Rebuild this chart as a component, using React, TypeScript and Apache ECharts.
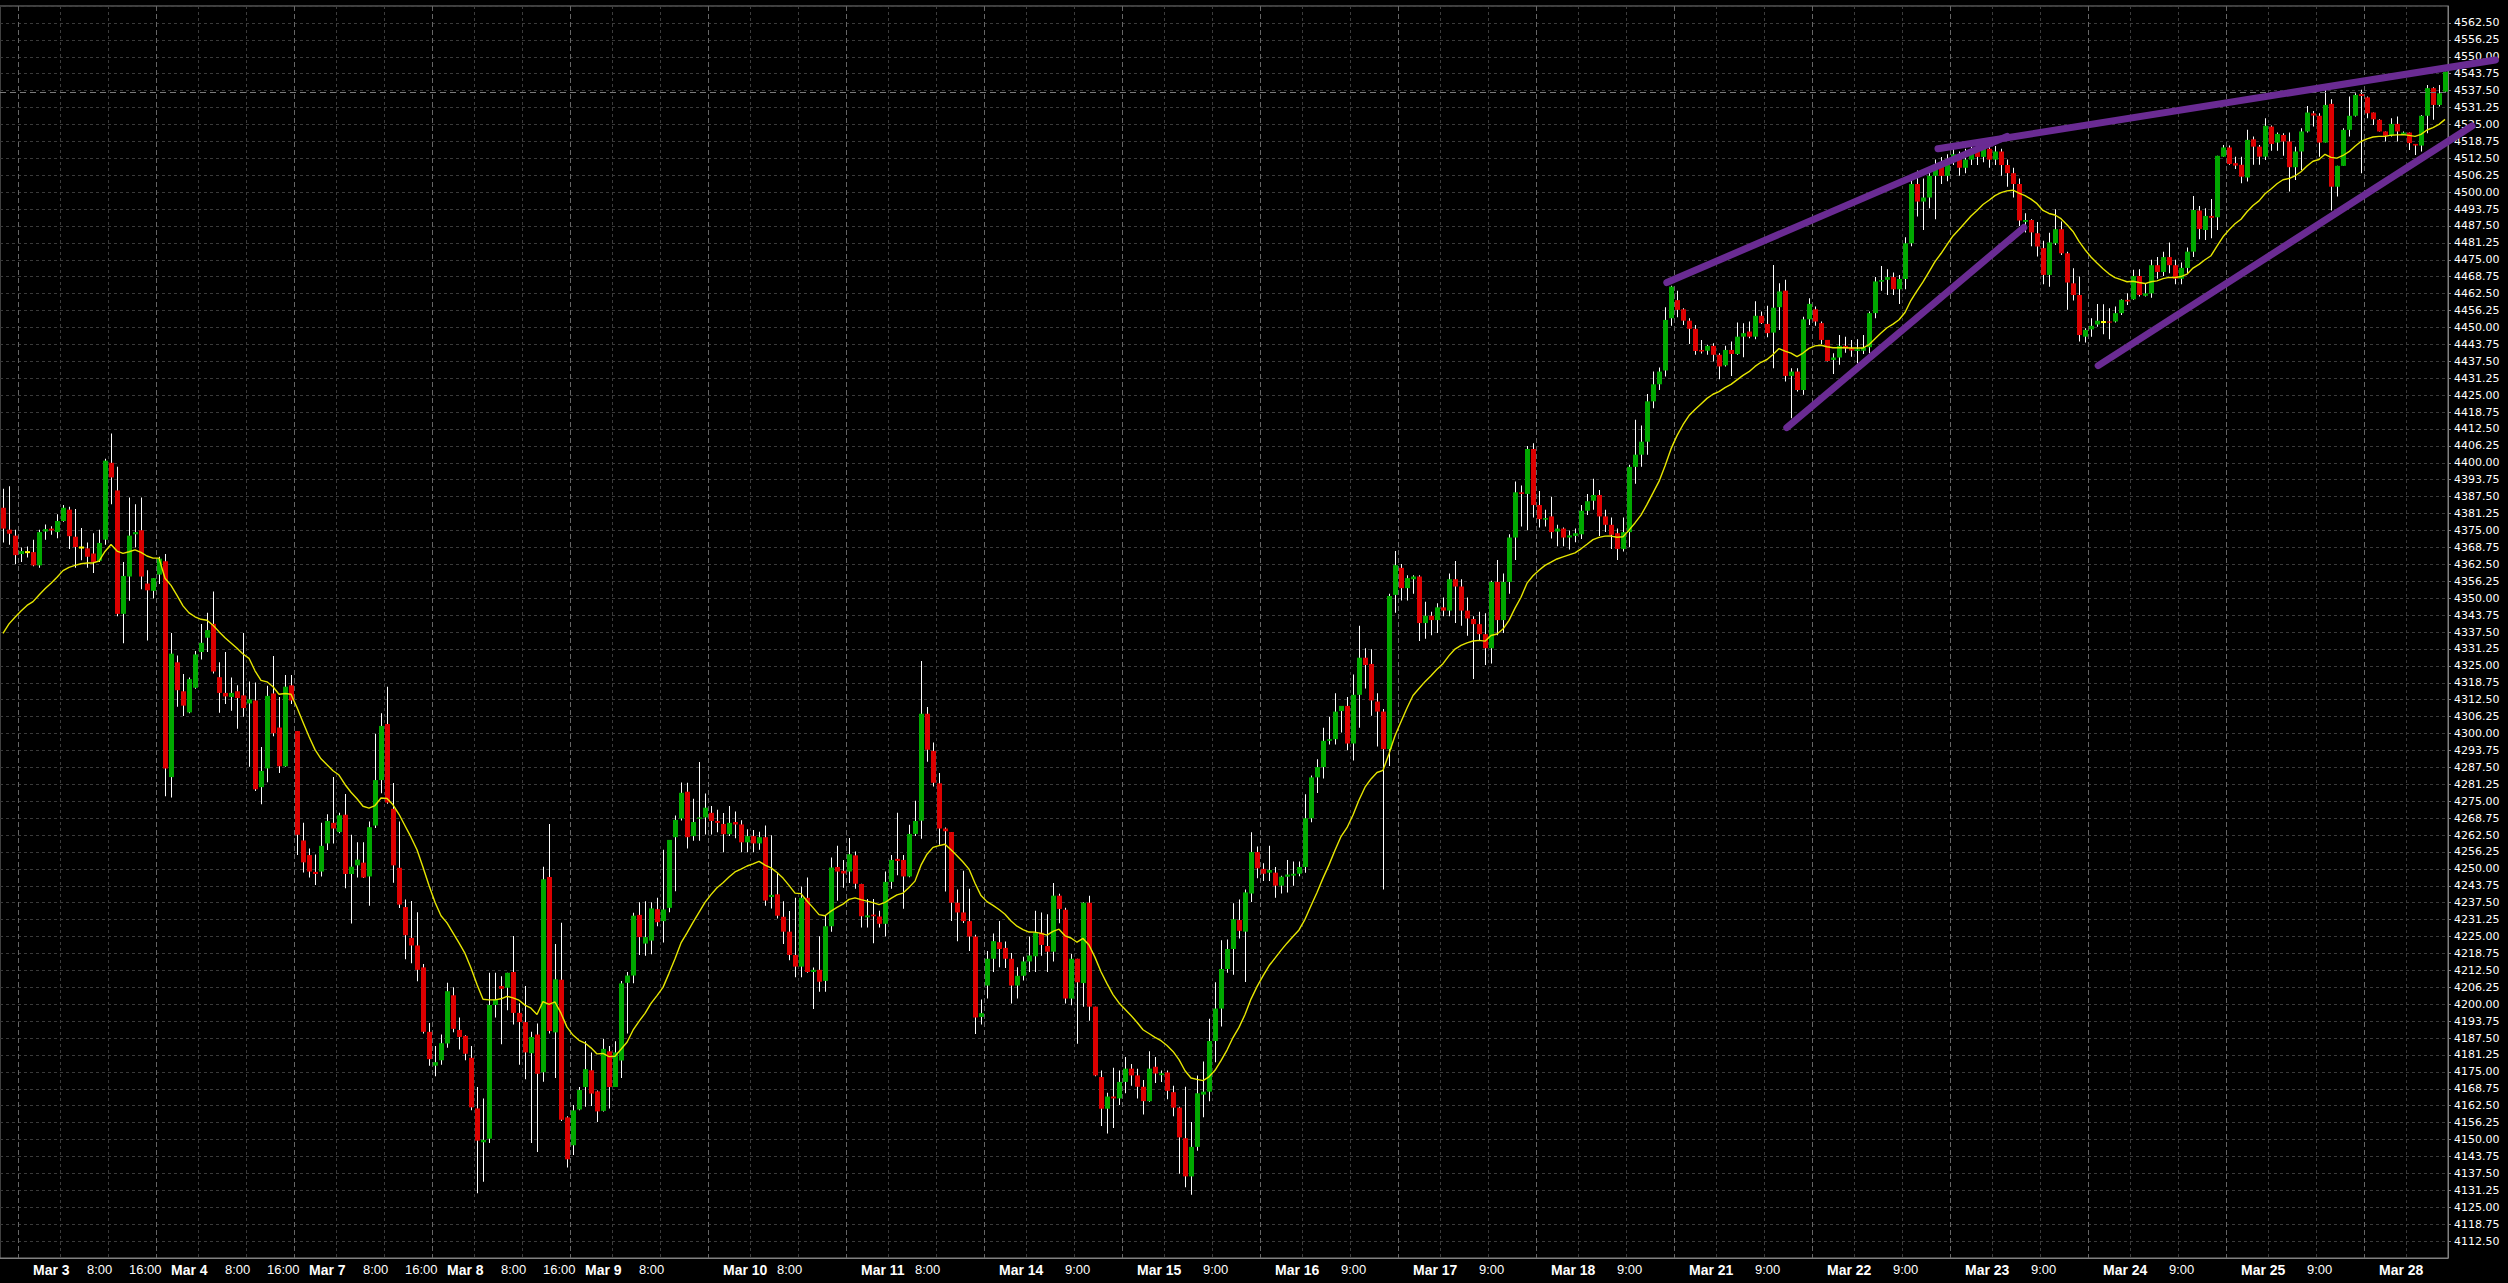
import React, { useEffect, useRef } from "react";
import * as echarts from "echarts";

// ---- Hourly OHLC bars (bar 0 .. 407) ----
const opens = [
  4383.4, 4375.3, 4373.1, 4366.3, 4367.0, 4367.0, 4362.1, 4374.6, 4375.7, 4374.4,
  4378.5, 4382.7, 4372.7, 4368.7, 4368.4, 4366.5, 4363.8, 4371.6, 4400.0, 4389.8,
  4344.2, 4358.0, 4373.6, 4375.1, 4355.4, 4352.7, 4358.7, 4363.6, 4283.9, 4326.3,
  4315.6, 4307.8, 4316.9, 4330.1, 4335.4, 4340.5, 4320.8, 4315.0, 4313.5, 4315.6,
  4314.1, 4311.1, 4312.2, 4280.2, 4287.1, 4314.8, 4302.2, 4287.9, 4317.8, 4300.9,
  4260.5, 4255.1, 4248.9, 4249.0, 4259.4, 4267.0, 4263.6, 4270.0, 4248.1, 4251.3,
  4252.3, 4247.2, 4266.0, 4282.8, 4303.5, 4272.2, 4250.4, 4235.9, 4224.5, 4221.7,
  4213.6, 4189.8, 4177.3, 4179.3, 4185.5, 4203.3, 4190.5, 4188.3, 4180.2, 4161.5,
  4149.0, 4150.3, 4199.7, 4206.7, 4206.1, 4211.9, 4196.8, 4193.4, 4181.9, 4188.8,
  4174.9, 4247.0, 4189.6, 4209.0, 4158.2, 4147.9, 4161.1, 4169.4, 4175.6, 4167.8,
  4160.6, 4182.6, 4169.4, 4179.2, 4207.9, 4210.6, 4233.0, 4222.4, 4223.5, 4235.1,
  4230.7, 4235.6, 4261.7, 4268.6, 4278.5, 4262.1, 4268.5, 4269.0, 4270.7, 4267.7,
  4266.6, 4262.8, 4267.3, 4266.4, 4259.8, 4262.1, 4259.4, 4261.7, 4239.6, 4240.6,
  4232.3, 4226.8, 4218.2, 4213.9, 4239.3, 4211.9, 4212.7, 4208.6, 4228.8, 4250.7,
  4249.3, 4249.0, 4255.0, 4244.4, 4232.1, 4233.1, 4232.4, 4229.7, 4245.2, 4253.7,
  4253.3, 4247.2, 4262.9, 4267.8, 4307.3, 4293.6, 4281.6, 4264.9, 4263.6, 4237.5,
  4233.9, 4230.7, 4225.0, 4195.3, 4206.9, 4216.8, 4222.9, 4220.8, 4216.8, 4206.9,
  4210.5, 4215.8, 4217.7, 4226.4, 4221.5, 4219.4, 4240.1, 4234.9, 4202.1, 4216.8,
  4207.8, 4237.5, 4199.1, 4173.1, 4161.4, 4165.9, 4165.2, 4171.3, 4176.2, 4173.7,
  4169.5, 4164.2, 4176.9, 4173.8, 4174.8, 4167.5, 4161.8, 4150.5, 4136.4, 4147.3,
  4166.6, 4167.7, 4186.4, 4198.4, 4213.0, 4220.4, 4231.1, 4226.8, 4240.9, 4256.2,
  4250.0, 4248.6, 4248.6, 4243.8, 4247.1, 4247.5, 4248.2, 4250.7, 4268.7, 4283.8,
  4287.6, 4297.3, 4297.9, 4308.3, 4310.2, 4296.3, 4314.3, 4328.0, 4325.7, 4311.8,
  4308.1, 4294.2, 4351.2, 4361.2, 4353.7, 4357.0, 4358.0, 4340.8, 4343.5, 4341.9,
  4346.6, 4345.4, 4357.0, 4354.3, 4345.4, 4342.3, 4340.4, 4336.7, 4331.5, 4356.0,
  4341.9, 4356.0, 4372.4, 4389.1, 4388.5, 4405.1, 4384.4, 4379.0, 4380.2, 4374.6,
  4375.7, 4372.4, 4373.0, 4373.6, 4382.3, 4386.0, 4388.1, 4380.2, 4377.1, 4374.0,
  4368.2, 4374.4, 4398.5, 4403.0, 4407.8, 4422.7, 4429.0, 4434.1, 4453.4, 4460.1,
  4456.7, 4452.5, 4449.5, 4441.7, 4441.4, 4443.2, 4439.9, 4436.0, 4441.7, 4440.2,
  4446.6, 4448.5, 4446.6, 4454.3, 4451.3, 4448.1, 4457.5, 4463.6, 4432.1, 4433.7,
  4426.9, 4453.0, 4456.7, 4451.6, 4445.4, 4438.0, 4438.9, 4443.2, 4442.3, 4441.3,
  4441.4, 4442.7, 4455.3, 4466.9, 4467.6, 4468.6, 4464.1, 4467.9, 4481.1, 4503.0,
  4496.5, 4498.0, 4506.0, 4510.0, 4506.0, 4512.0, 4514.0, 4509.0, 4512.0, 4515.0,
  4513.0, 4516.0, 4512.0, 4515.0, 4510.0, 4507.0, 4503.0, 4489.0, 4489.7, 4484.8,
  4479.3, 4469.4, 4481.1, 4486.3, 4477.4, 4466.3, 4462.0, 4446.6, 4449.3, 4451.1,
  4452.0, 4452.2, 4452.2, 4455.3, 4460.2, 4460.4, 4469.0, 4461.7, 4462.6, 4473.0,
  4470.5, 4476.0, 4473.0, 4468.0, 4472.0, 4478.0, 4493.2, 4486.0, 4491.2, 4490.7,
  4513.1, 4516.5, 4510.7, 4510.1, 4505.4, 4519.5, 4516.8, 4513.1, 4524.2, 4518.3,
  4521.1, 4518.7, 4509.2, 4515.0, 4522.4, 4529.1, 4528.2, 4518.3, 4532.6, 4502.0,
  4509.7, 4523.0, 4528.2, 4536.2, 4535.0, 4529.4, 4526.7, 4522.4, 4521.1, 4525.2,
  4521.1, 4522.0, 4517.8, 4517.2, 4528.2, 4538.4, 4532.2, 4537.1,
];
const highs = [
  4390.4, 4391.3, 4375.3, 4368.7, 4369.1, 4371.6, 4375.3, 4377.2, 4376.6, 4381.0,
  4384.4, 4383.8, 4382.9, 4375.9, 4370.6, 4374.0, 4375.3, 4401.5, 4410.8, 4398.5,
  4363.4, 4387.2, 4384.7, 4387.2, 4360.3, 4357.4, 4365.3, 4366.3, 4337.1, 4328.8,
  4322.0, 4320.7, 4330.5, 4340.5, 4344.6, 4352.5, 4326.3, 4330.1, 4320.7, 4317.8,
  4337.1, 4319.2, 4318.8, 4295.0, 4317.6, 4328.6, 4313.5, 4321.6, 4321.6, 4300.9,
  4267.0, 4257.5, 4255.3, 4267.0, 4270.2, 4283.9, 4270.7, 4277.7, 4262.6, 4259.8,
  4259.8, 4267.5, 4299.9, 4307.5, 4317.3, 4281.7, 4267.5, 4238.7, 4238.1, 4234.0,
  4214.9, 4193.1, 4184.6, 4188.8, 4207.9, 4206.3, 4195.1, 4188.5, 4184.6, 4169.4,
  4165.2, 4211.6, 4211.6, 4210.3, 4211.6, 4225.2, 4200.4, 4206.7, 4189.8, 4192.9,
  4250.8, 4266.6, 4222.2, 4230.1, 4158.6, 4162.8, 4169.4, 4186.3, 4182.2, 4168.1,
  4187.2, 4184.6, 4186.3, 4208.6, 4211.9, 4233.8, 4237.7, 4238.0, 4237.7, 4239.3,
  4257.1, 4260.7, 4269.7, 4281.9, 4281.8, 4275.9, 4289.5, 4277.8, 4273.2, 4271.8,
  4270.6, 4273.2, 4271.2, 4268.0, 4264.6, 4264.4, 4263.7, 4266.0, 4262.4, 4248.6,
  4238.0, 4234.4, 4239.3, 4243.5, 4246.8, 4213.6, 4225.1, 4232.7, 4254.2, 4258.5,
  4253.3, 4261.4, 4256.4, 4244.5, 4238.9, 4238.9, 4234.5, 4249.0, 4255.1, 4270.7,
  4255.1, 4266.3, 4275.2, 4326.8, 4309.8, 4296.7, 4285.4, 4265.3, 4263.6, 4242.4,
  4249.3, 4242.7, 4225.7, 4201.7, 4219.7, 4226.1, 4230.7, 4223.2, 4218.9, 4213.7,
  4217.5, 4225.0, 4234.5, 4233.9, 4233.2, 4244.8, 4240.8, 4235.6, 4218.6, 4216.8,
  4237.7, 4240.1, 4199.1, 4175.5, 4167.3, 4176.5, 4175.5, 4180.5, 4177.9, 4176.2,
  4172.0, 4182.6, 4180.5, 4175.5, 4175.5, 4169.9, 4162.1, 4169.5, 4156.5, 4173.7,
  4178.8, 4194.6, 4208.1, 4223.6, 4223.9, 4237.3, 4238.7, 4242.4, 4263.5, 4258.3,
  4252.1, 4258.5, 4250.7, 4247.5, 4253.3, 4252.7, 4252.7, 4277.6, 4284.5, 4290.5,
  4302.1, 4306.2, 4314.9, 4310.2, 4313.5, 4321.8, 4339.8, 4331.5, 4331.1, 4314.9,
  4309.1, 4351.6, 4367.4, 4362.6, 4358.5, 4358.5, 4358.5, 4348.7, 4345.0, 4348.1,
  4350.2, 4359.1, 4363.7, 4357.0, 4350.2, 4343.3, 4345.0, 4344.4, 4356.4, 4364.1,
  4359.1, 4373.6, 4393.1, 4391.6, 4406.2, 4407.2, 4389.6, 4382.7, 4387.5, 4377.1,
  4376.1, 4375.0, 4375.7, 4384.4, 4388.5, 4394.1, 4390.0, 4382.7, 4379.8, 4375.7,
  4379.8, 4399.3, 4415.9, 4413.8, 4425.4, 4433.7, 4435.2, 4457.5, 4465.4, 4463.6,
  4457.1, 4453.4, 4450.9, 4445.4, 4443.6, 4444.2, 4440.5, 4443.2, 4444.8, 4451.8,
  4451.6, 4452.2, 4459.7, 4455.9, 4458.0, 4473.1, 4466.3, 4467.6, 4434.9, 4434.9,
  4454.0, 4460.8, 4457.7, 4452.2, 4445.4, 4440.5, 4447.2, 4446.6, 4445.4, 4445.6,
  4447.2, 4455.9, 4468.6, 4472.7, 4471.5, 4470.3, 4469.4, 4483.3, 4505.0, 4508.0,
  4505.0, 4508.0, 4512.0, 4513.0, 4514.0, 4517.0, 4515.0, 4516.0, 4518.0, 4517.0,
  4518.0, 4518.0, 4517.0, 4516.0, 4512.0, 4509.0, 4505.0, 4492.2, 4490.0, 4489.0,
  4482.0, 4485.0, 4493.7, 4489.1, 4478.0, 4471.9, 4468.8, 4449.7, 4453.4, 4458.7,
  4458.6, 4457.1, 4457.7, 4460.4, 4462.6, 4471.3, 4471.5, 4466.3, 4475.0, 4476.0,
  4478.0, 4481.4, 4475.0, 4474.0, 4479.5, 4498.6, 4494.9, 4494.0, 4497.5, 4513.4,
  4517.4, 4517.2, 4513.1, 4513.1, 4523.0, 4520.5, 4517.4, 4527.3, 4524.6, 4522.0,
  4521.7, 4522.0, 4516.8, 4523.6, 4531.8, 4530.0, 4529.1, 4537.8, 4534.3, 4509.7,
  4523.6, 4535.3, 4536.5, 4537.8, 4535.3, 4529.4, 4526.9, 4522.4, 4527.3, 4527.9,
  4522.4, 4522.0, 4517.8, 4528.5, 4539.6, 4538.7, 4539.6, 4544.5,
];
const lows = [
  4370.6, 4369.7, 4362.5, 4363.4, 4365.0, 4361.8, 4361.2, 4371.6, 4373.4, 4372.1,
  4378.2, 4368.2, 4361.2, 4364.0, 4361.2, 4359.3, 4363.4, 4369.7, 4384.7, 4343.3,
  4333.3, 4349.0, 4368.7, 4353.3, 4334.4, 4349.9, 4355.2, 4276.8, 4276.4, 4309.9,
  4306.5, 4307.5, 4316.5, 4327.3, 4330.1, 4322.2, 4307.7, 4310.9, 4308.4, 4301.8,
  4306.2, 4287.7, 4278.8, 4273.9, 4282.0, 4299.0, 4285.4, 4287.7, 4310.9, 4255.1,
  4248.7, 4246.8, 4244.0, 4247.2, 4257.0, 4259.4, 4263.2, 4242.8, 4229.8, 4246.8,
  4246.6, 4236.4, 4265.1, 4277.9, 4274.1, 4244.9, 4235.5, 4216.6, 4215.1, 4208.5,
  4189.2, 4177.3, 4173.4, 4177.6, 4183.9, 4189.6, 4183.3, 4179.3, 4160.8, 4130.2,
  4134.4, 4148.7, 4195.1, 4185.2, 4197.8, 4192.5, 4177.6, 4172.3, 4148.7, 4145.4,
  4171.4, 4189.2, 4172.7, 4156.9, 4139.7, 4144.3, 4160.8, 4162.1, 4162.4, 4156.5,
  4160.4, 4161.5, 4169.4, 4172.7, 4189.2, 4207.7, 4218.2, 4217.9, 4218.5, 4228.8,
  4222.8, 4234.0, 4241.7, 4267.9, 4257.5, 4260.4, 4260.4, 4262.7, 4262.7, 4263.5,
  4256.1, 4262.1, 4261.3, 4256.1, 4256.1, 4256.1, 4257.1, 4236.4, 4235.4, 4231.7,
  4222.2, 4216.2, 4210.0, 4210.0, 4211.6, 4198.2, 4204.6, 4204.6, 4226.8, 4238.2,
  4243.0, 4244.8, 4242.7, 4228.3, 4228.3, 4222.5, 4228.3, 4225.0, 4242.7, 4247.6,
  4235.3, 4246.9, 4262.1, 4261.1, 4289.6, 4280.4, 4258.9, 4241.6, 4230.7, 4223.3,
  4230.0, 4219.7, 4189.0, 4192.5, 4202.1, 4211.9, 4213.7, 4213.4, 4200.3, 4202.1,
  4208.8, 4211.9, 4211.9, 4217.9, 4211.9, 4215.8, 4229.9, 4200.3, 4199.6, 4185.4,
  4199.1, 4193.9, 4173.4, 4155.0, 4152.2, 4154.3, 4162.8, 4167.1, 4169.9, 4165.2,
  4159.3, 4164.0, 4170.9, 4171.3, 4164.9, 4158.6, 4137.4, 4132.4, 4129.6, 4145.9,
  4158.2, 4164.2, 4178.6, 4191.8, 4211.6, 4210.9, 4224.3, 4208.2, 4237.8, 4246.5,
  4245.5, 4245.5, 4239.3, 4240.9, 4241.3, 4243.8, 4247.3, 4248.6, 4267.2, 4278.0,
  4283.4, 4295.9, 4295.9, 4300.4, 4293.8, 4290.0, 4302.1, 4316.6, 4306.6, 4295.2,
  4242.4, 4288.0, 4344.6, 4349.1, 4349.1, 4351.6, 4334.2, 4335.0, 4336.3, 4337.1,
  4343.3, 4343.3, 4340.8, 4339.8, 4336.1, 4320.1, 4334.2, 4325.3, 4325.9, 4336.3,
  4337.1, 4351.6, 4364.1, 4376.5, 4375.1, 4379.8, 4376.1, 4376.5, 4372.0, 4369.2,
  4369.2, 4368.0, 4370.7, 4371.9, 4380.7, 4382.7, 4373.0, 4374.4, 4368.2, 4364.1,
  4367.2, 4368.8, 4392.3, 4398.5, 4403.0, 4420.2, 4426.9, 4431.9, 4450.6, 4453.8,
  4450.9, 4443.9, 4439.9, 4440.4, 4439.9, 4437.4, 4430.9, 4435.6, 4432.1, 4439.9,
  4439.0, 4446.0, 4445.6, 4451.3, 4446.4, 4434.9, 4449.1, 4430.0, 4416.5, 4426.3,
  4425.1, 4450.9, 4450.6, 4443.8, 4437.4, 4432.8, 4436.2, 4440.7, 4439.2, 4436.8,
  4440.2, 4440.5, 4453.4, 4463.6, 4462.0, 4462.0, 4458.7, 4464.1, 4480.0, 4491.0,
  4486.0, 4494.0, 4490.0, 4503.0, 4504.0, 4510.0, 4506.0, 4507.0, 4510.0, 4510.0,
  4511.0, 4509.0, 4510.0, 4506.0, 4502.0, 4498.0, 4487.5, 4485.1, 4480.0, 4476.2,
  4466.0, 4465.0, 4480.5, 4476.8, 4456.5, 4460.0, 4444.8, 4444.4, 4446.6, 4450.3,
  4447.5, 4445.6, 4451.8, 4454.6, 4458.3, 4460.2, 4461.4, 4461.4, 4461.0, 4468.0,
  4469.0, 4470.0, 4466.0, 4466.0, 4470.0, 4476.0, 4482.6, 4482.3, 4483.0, 4486.0,
  4513.1, 4510.1, 4508.5, 4503.3, 4503.9, 4510.1, 4510.1, 4511.9, 4515.3, 4515.3,
  4513.4, 4500.2, 4504.5, 4508.2, 4522.0, 4524.2, 4513.1, 4518.3, 4493.2, 4498.4,
  4509.7, 4520.5, 4527.9, 4507.0, 4527.3, 4524.8, 4522.4, 4518.7, 4520.5, 4518.7,
  4521.1, 4515.6, 4513.7, 4515.0, 4521.7, 4526.7, 4531.6, 4537.1,
];
const closes = [
  4375.7, 4373.8, 4365.9, 4367.4, 4367.0, 4362.1, 4374.4, 4375.5, 4375.0, 4378.5,
  4383.4, 4372.9, 4368.9, 4368.7, 4365.3, 4363.4, 4370.4, 4400.8, 4394.6, 4344.2,
  4358.2, 4373.1, 4374.4, 4358.0, 4352.9, 4357.4, 4364.6, 4287.1, 4329.5, 4316.0,
  4310.3, 4320.1, 4329.2, 4333.5, 4338.2, 4322.9, 4315.0, 4313.7, 4315.0, 4313.1,
  4309.4, 4312.6, 4279.4, 4286.2, 4313.9, 4300.1, 4287.9, 4317.3, 4312.2, 4262.6,
  4252.4, 4249.0, 4248.1, 4258.5, 4267.7, 4264.9, 4269.8, 4248.1, 4250.8, 4253.4,
  4246.8, 4265.4, 4282.8, 4302.8, 4274.5, 4251.3, 4236.8, 4225.5, 4221.7, 4212.7,
  4189.8, 4179.7, 4178.6, 4185.6, 4204.8, 4190.9, 4187.9, 4181.7, 4161.9, 4149.6,
  4149.9, 4199.7, 4201.7, 4205.7, 4211.6, 4196.8, 4193.4, 4182.2, 4187.9, 4174.3,
  4246.2, 4190.1, 4209.2, 4157.3, 4142.7, 4160.8, 4168.3, 4176.0, 4167.0, 4160.4,
  4183.5, 4169.4, 4182.2, 4207.7, 4210.6, 4232.7, 4224.8, 4224.8, 4235.4, 4230.3,
  4235.0, 4260.7, 4268.1, 4278.1, 4261.7, 4267.3, 4269.0, 4272.6, 4267.7, 4267.0,
  4262.8, 4267.0, 4266.4, 4259.8, 4262.1, 4259.4, 4261.7, 4238.3, 4240.4, 4232.7,
  4226.8, 4218.2, 4213.9, 4239.3, 4211.9, 4212.7, 4208.3, 4228.8, 4250.5, 4249.0,
  4248.3, 4255.4, 4244.5, 4232.5, 4232.8, 4232.5, 4229.7, 4245.2, 4253.3, 4252.9,
  4247.2, 4262.9, 4267.7, 4307.3, 4294.0, 4281.8, 4264.9, 4263.9, 4237.5, 4233.9,
  4230.7, 4225.0, 4195.1, 4196.7, 4216.8, 4223.3, 4220.4, 4216.8, 4206.9, 4210.5,
  4215.8, 4218.0, 4226.4, 4221.9, 4219.4, 4240.1, 4235.2, 4202.1, 4216.8, 4208.1,
  4237.5, 4199.1, 4173.7, 4161.4, 4165.9, 4165.2, 4171.3, 4176.2, 4173.7, 4169.5,
  4164.2, 4176.2, 4174.4, 4174.5, 4168.0, 4161.8, 4150.8, 4136.4, 4147.3, 4167.1,
  4167.7, 4186.4, 4198.4, 4213.0, 4220.4, 4231.4, 4227.1, 4241.3, 4256.2, 4250.2,
  4248.2, 4249.6, 4243.8, 4247.1, 4247.9, 4248.2, 4250.7, 4268.7, 4283.8, 4287.6,
  4297.3, 4297.9, 4308.1, 4310.2, 4296.3, 4314.3, 4328.0, 4325.3, 4312.2, 4308.1,
  4294.2, 4350.8, 4362.2, 4353.7, 4357.4, 4358.0, 4340.8, 4343.5, 4341.9, 4346.6,
  4345.4, 4357.0, 4354.3, 4345.4, 4342.5, 4340.4, 4336.7, 4331.5, 4356.0, 4341.9,
  4356.0, 4372.4, 4389.1, 4388.5, 4405.1, 4384.4, 4379.2, 4379.6, 4374.4, 4375.7,
  4372.4, 4373.2, 4374.0, 4382.3, 4385.8, 4388.1, 4380.2, 4377.1, 4373.4, 4368.2,
  4374.4, 4398.5, 4403.0, 4407.8, 4422.7, 4429.0, 4433.7, 4452.8, 4465.1, 4456.5,
  4452.5, 4449.5, 4441.3, 4441.1, 4443.2, 4439.9, 4435.6, 4441.7, 4440.2, 4446.6,
  4447.9, 4446.6, 4454.3, 4451.6, 4447.9, 4457.3, 4463.3, 4432.1, 4433.7, 4426.9,
  4453.0, 4458.7, 4452.2, 4445.4, 4437.6, 4438.9, 4443.2, 4442.3, 4441.5, 4442.0,
  4442.6, 4455.3, 4467.0, 4467.5, 4468.6, 4464.1, 4467.9, 4481.1, 4503.0, 4496.5,
  4498.0, 4506.0, 4510.0, 4506.0, 4512.0, 4514.0, 4509.0, 4512.0, 4515.0, 4513.0,
  4516.0, 4512.0, 4515.0, 4510.0, 4507.0, 4503.0, 4489.5, 4489.7, 4485.1, 4479.9,
  4469.4, 4481.4, 4486.3, 4477.4, 4466.6, 4462.0, 4447.2, 4449.1, 4450.6, 4452.5,
  4452.0, 4451.8, 4455.3, 4460.2, 4459.6, 4469.0, 4462.0, 4462.6, 4473.0, 4470.5,
  4476.0, 4473.0, 4468.0, 4472.0, 4478.0, 4493.4, 4486.4, 4491.2, 4490.5, 4513.4,
  4516.5, 4510.4, 4509.8, 4505.7, 4519.3, 4516.8, 4513.1, 4524.5, 4517.8, 4521.5,
  4518.7, 4509.2, 4515.0, 4522.4, 4529.4, 4528.3, 4518.3, 4532.2, 4502.0, 4509.7,
  4523.0, 4528.2, 4535.9, 4535.5, 4529.1, 4526.9, 4522.4, 4520.8, 4525.2, 4522.4,
  4522.0, 4518.1, 4517.2, 4528.2, 4538.4, 4532.2, 4536.5, 4544.5,
];

// Moving average (yellow): exponential, period 20, its first value
const maPeriod = 20;
const maFirstValue = 4337.0;

// Day labels and intraday time labels shown under each trading day
const dayNames = ["Mar 3", "Mar 4", "Mar 7", "Mar 8", "Mar 9", "Mar 10", "Mar 11", "Mar 14", "Mar 15",
  "Mar 16", "Mar 17", "Mar 18", "Mar 21", "Mar 22", "Mar 23", "Mar 24", "Mar 25", "Mar 28"];
const hourLabels = ["8:00", "8:00", "8:00", "8:00", "8:00", "8:00", "8:00", "9:00", "9:00",
  "9:00", "9:00", "9:00", "9:00", "9:00", "9:00", "9:00", "9:00", ""];
const eveningLabels = ["16:00", "16:00", "16:00", "16:00", "", "", "", "", "",
  "", "", "", "", "", "", "", "", ""];

// Price axis (ticks every 6.25)
const yMin = 4106.25;
const yMax = 4568.75;
const yStep = 6.25;
const bidPrice = 4536.75;

// Hand-drawn trend lines: [bar index, price] end points
const trendLines = [
  [[277.3, 4466.6], [334.0, 4520.6]],
  [[322.5, 4516.0], [415.4, 4548.8]],
  [[297.3, 4413.0], [336.8, 4486.9]],
  [[349.2, 4435.9], [411.5, 4524.4]],
];

// ---- layout / style ----
const W = 2508;
const H = 1283;
const FIRST_DAY_BAR = 3;
const BARS_PER_DAY = 23;
const UP = "#00a800";
const DOWN = "#dc0000";
const DOJI = "#ffff00";
const WICK = "#ffffff";
const PURPLE = "#6a2b93";

export default function App() {
  const ref = useRef<HTMLDivElement>(null);

  useEffect(() => {
    if (!ref.current) return;
    const chart = echarts.init(ref.current, undefined, { renderer: "svg" });

    const n = closes.length;
    const cats = closes.map((_, i) => String(i));
    const ohlc = closes.map((c, i) => [i, opens[i], c, lows[i], highs[i]]);

    const alpha = 2 / (maPeriod + 1);
    const ma: number[] = [];
    let prev = maFirstValue;
    closes.forEach((c, i) => {
      if (i > 0) prev = prev + (c - prev) * alpha;
      ma.push(+prev.toFixed(2));
    });

    const labelMap: Record<number, string> = {};
    const gridSet = new Set<number>();
    const sepSet = new Set<number>();
    dayNames.forEach((d, j) => {
      const s = FIRST_DAY_BAR + j * BARS_PER_DAY;
      sepSet.add(s);
      gridSet.add(s + 7);
      gridSet.add(s + 15);
      labelMap[s + 2] = `{d|${d}}`;
      if (hourLabels[j]) labelMap[s + (hourLabels[j] === "9:00" ? 13 : 11)] = `{t|${hourLabels[j]}}`;
      if (eveningLabels[j]) labelMap[s + 18] = `{t|${eveningLabels[j]}}`;
    });

    const option: any = {
      animation: false,
      backgroundColor: "#000000",
      grid: {
        left: -2,
        top: 6,
        width: 2450,
        height: 1252,
        show: true,
        borderColor: "#808080",
        borderWidth: 1,
        backgroundColor: "transparent",
      },
      xAxis: [
        {
          type: "category",
          data: cats,
          gridIndex: 0,
          boundaryGap: true,
          axisLine: { show: true, lineStyle: { color: "#808080", width: 1 } },
          axisTick: { show: false },
          axisLabel: {
            interval: (i: number) => labelMap[i] !== undefined,
            formatter: (_v: string, i: number) => labelMap[i] ?? "",
            align: "left",
            margin: 5,
            color: "#ffffff",
            rich: {
              d: { fontFamily: "Liberation Sans", fontWeight: "bold", fontSize: 14, color: "#ffffff" },
              t: { fontFamily: "Liberation Sans", fontSize: 13, color: "#ffffff" },
            },
          },
          splitLine: {
            show: true,
            interval: (i: number) => gridSet.has(i),
            lineStyle: { color: "#3c3c3c", type: [3, 3], width: 1 },
          },
        },
        {
          type: "category",
          data: cats,
          gridIndex: 0,
          boundaryGap: true,
          position: "bottom",
          axisLine: { show: false },
          axisTick: { show: false },
          axisLabel: { show: false },
          splitLine: {
            show: true,
            interval: (i: number) => sepSet.has(i),
            lineStyle: { color: "#666666", type: [5, 3], width: 1 },
          },
        },
      ],
      yAxis: {
        type: "value",
        position: "right",
        min: yMin,
        max: yMax,
        interval: yStep,
        axisLine: { show: true, lineStyle: { color: "#808080" } },
        axisTick: { show: true, length: 3, lineStyle: { color: "#808080" } },
        axisLabel: {
          showMinLabel: false,
          showMaxLabel: false,
          formatter: (v: number) => v.toFixed(2),
          color: "#ffffff",
          fontFamily: "DejaVu Sans",
          fontSize: 11,
          margin: 6,
        },
        splitLine: { show: true, lineStyle: { color: "#3a3a3a", type: [3, 3], width: 1 } },
      },
      series: [
        {
          type: "custom",
          name: "bars",
          xAxisIndex: 0,
          yAxisIndex: 0,
          data: ohlc,
          encode: { x: 0, y: [1, 2, 3, 4] },
          clip: true,
          z: 2,
          renderItem: (_params: any, api: any) => {
            const i = api.value(0);
            const o = api.value(1);
            const c = api.value(2);
            const l = api.value(3);
            const h = api.value(4);
            const po = api.coord([i, o]);
            const pc = api.coord([i, c]);
            const pl = api.coord([i, l]);
            const ph = api.coord([i, h]);
            const cx = Math.round(po[0]);
            const top = Math.min(po[1], pc[1]);
            const bot = Math.max(po[1], pc[1]);
            const doji = o === c;
            const color = doji ? DOJI : c > o ? UP : DOWN;
            const bh = Math.max(bot - top, doji ? 2 : 1);
            return {
              type: "group",
              children: [
                {
                  type: "rect",
                  shape: { x: cx, y: ph[1], width: 1, height: Math.max(pl[1] - ph[1], 1) },
                  style: { fill: WICK },
                },
                {
                  type: "rect",
                  shape: { x: cx - 2, y: doji ? top - 1 : top, width: 5, height: bh },
                  style: { fill: color },
                },
              ],
            };
          },
        },
        {
          type: "line",
          name: "ma",
          xAxisIndex: 0,
          yAxisIndex: 0,
          data: ma,
          showSymbol: false,
          symbol: "none",
          z: 3,
          lineStyle: { color: "#e6e600", width: 1.4 },
          markLine: {
            silent: true,
            symbol: ["none", "none"],
            label: { show: false },
            lineStyle: { color: "#7a7a7a", type: [6, 4], width: 1 },
            data: [{ yAxis: bidPrice }],
          },
        },
      ],
    };

    chart.setOption(option);

    const finder = { xAxisIndex: 0, yAxisIndex: 0 };
    const p0 = chart.convertToPixel(finder, [0, yMin]) as number[];
    const p1 = chart.convertToPixel(finder, [1, yMin]) as number[];
    const dx = p1[0] - p0[0];
    const toPx = (bar: number, price: number) => {
      const py = (chart.convertToPixel(finder, [0, price]) as number[])[1];
      return [p0[0] + bar * dx, py];
    };
    const graphics = trendLines.map(([a, b]) => {
      const pa = toPx(a[0], a[1]);
      const pb = toPx(b[0], b[1]);
      return {
        type: "line",
        z: 100,
        silent: true,
        shape: { x1: pa[0], y1: pa[1], x2: pb[0], y2: pb[1] },
        style: { stroke: PURPLE, lineWidth: 7, lineCap: "round" },
      };
    });
    chart.setOption({ graphic: graphics });
    void n;

    return () => chart.dispose();
  }, []);

  return (
    <div
      ref={ref}
      style={{ position: "fixed", left: 0, top: 0, width: W, height: H, background: "#000000" }}
    />
  );
}
